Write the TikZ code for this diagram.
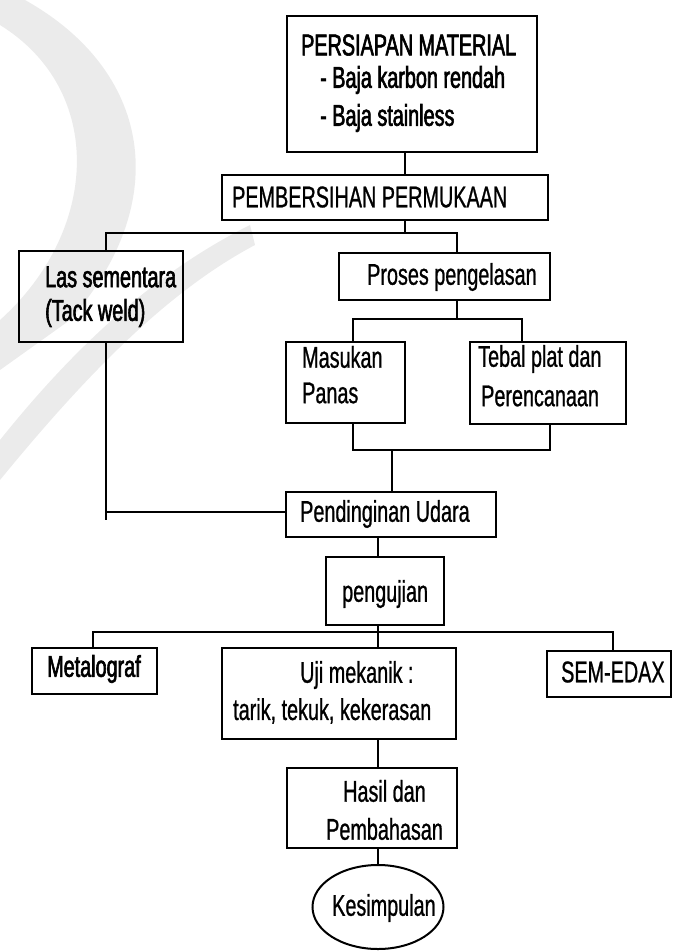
\documentclass[tikz,border=0pt]{standalone}
\usepackage{fontspec}
\setmainfont{Liberation Sans}[FakeStretch=0.66,FakeBold=0.8]
\newfontfamily\heavyfont{Liberation Sans}[FakeStretch=0.66,FakeBold=2]
\usetikzlibrary{fit,shapes.geometric}
\begin{document}
\begin{tikzpicture}[x=1pt,y=-1pt,
  box/.style={draw, line width=2.4pt, inner sep=0pt, outer sep=0pt},
  oval/.style={draw, ellipse, line width=2pt, inner sep=0pt, outer sep=0pt},
  txt/.style={font=\fontsize{30}{34}\selectfont, inner sep=0pt, anchor=west},
  htxt/.style={font=\fontsize{30}{34}\selectfont\heavyfont, inner sep=0pt, anchor=west},
  con/.style={line width=2pt},
  wm/.style={fill=black!8, draw=none}]
\useasboundingbox (0,0) rectangle (673,951);
% faint watermark
\fill[wm] (25,0) .. controls (150,70) and (175,200) .. (70,320) -- (0,370) -- (0,320)
  .. controls (100,230) and (105,90) .. (0,25) -- (0,0) -- cycle;
\fill[wm] (0,440) .. controls (80,340) and (160,270) .. (250,225) -- (255,245)
  .. controls (170,290) and (90,370) .. (0,480) -- cycle;
% boxes
\node[box, fit={(287,16) (537,152)}] (mat) {};
\node[box, fit={(222,175) (548,220)}] (bersih) {};
\node[box, fit={(19,251) (183,342)}] (las) {};
\node[box, fit={(339,253) (550,300)}] (proses) {};
\node[box, fit={(286,342) (405,423)}] (masukan) {};
\node[box, fit={(470,342) (626,424)}] (tebal) {};
\node[box, fit={(286,492) (496,537)}] (pend) {};
\node[box, fit={(326,557) (444,625)}] (peng) {};
\node[box, fit={(32,648) (157,694)}] (meta) {};
\node[box, fit={(222,648) (456,739)}] (uji) {};
\node[box, fit={(547,651) (671,697)}] (sem) {};
\node[box, fit={(287,768) (457,848)}] (hasil) {};
\node[oval, minimum width=131pt, minimum height=84pt] (kes) at (378,907) {};
% texts
\node[htxt] (tmat1) at (301,45) {PERSIAPAN MATERIAL};
\node[htxt] (tmat2) at (320,80) {- Baja karbon rendah};
\node[htxt] (tmat3) at (320,118) {- Baja stainless};
\node[txt] (tbersih) at (232,197) {PEMBERSIHAN PERMUKAAN};
\node[htxt] (tlas1) at (45,277) {Las sementara};
\node[htxt] (tlas2) at (45,313) {(Tack weld)};
\node[txt] (tproses) at (367,277) {Proses pengelasan};
\node[txt] (tmas1) at (302,357) {Masukan};
\node[txt] (tmas2) at (302,393) {Panas};
\node[txt] (tteb1) at (478,359) {Tebal plat dan};
\node[txt] (tteb2) at (481,396) {Perencanaan};
\node[txt] (tpend) at (300,514) {Pendinginan Udara};
\node[txt] (tpeng) at (342,594) {pengujian};
\node[htxt] (tmeta) at (47,669) {Metalograf};
\node[txt] (tuji1) at (300,675) {Uji mekanik :};
\node[txt] (tuji2) at (233,711) {tarik, tekuk, kekerasan};
\node[txt] (tsem) at (561,672) {SEM-EDAX};
\node[txt] (thas1) at (343,791) {Hasil dan};
\node[txt] (thas2) at (326,829) {Pembahasan};
\node[txt] (tkes) at (332,908) {Kesimpulan};
% junction coordinates
\coordinate (j1) at (405,233);
\coordinate (jL) at (106,233);
\coordinate (jR) at (457,233);
\coordinate (j2) at (457,319);
\coordinate (j2L) at (353,319);
\coordinate (j2R) at (522,319);
\coordinate (m1) at (353,450);
\coordinate (m2) at (550,450);
\coordinate (m3) at (392,450);
\coordinate (lt) at (106,520);
\coordinate (lh) at (106,512);
\coordinate (j3) at (378,632);
\coordinate (j3L) at (93,632);
\coordinate (j3R) at (613,632);
% connectors
\draw[con] (mat.south -| j1) -- (bersih.north -| j1);
\draw[con] (bersih.south -| j1) -- (j1);
\draw[con] (las.north -| jL) -- (jL) -- (jR) -- (proses.north -| jR);
\draw[con] (proses.south -| j2) -- (j2);
\draw[con] (masukan.north -| j2L) -- (j2L) -- (j2R) -- (tebal.north -| j2R);
\draw[con] (masukan.south -| m1) -- (m1) -- (m2) -- (tebal.south -| m2);
\draw[con] (m3) -- (pend.north -| m3);
\draw[con] (las.south -| lt) -- (lt);
\draw[con] (lh) -- (pend.west |- lh);
\draw[con] (pend.south -| j3) -- (peng.north -| j3);
\draw[con] (peng.south -| j3) -- (j3);
\draw[con] (meta.north -| j3L) -- (j3L) -- (j3R) -- (sem.north -| j3R);
\draw[con] (j3) -- (uji.north -| j3);
\draw[con] (uji.south -| j3) -- (hasil.north -| j3);
\draw[con] (hasil.south -| j3) -- (kes.north);
\end{tikzpicture}
\end{document}
